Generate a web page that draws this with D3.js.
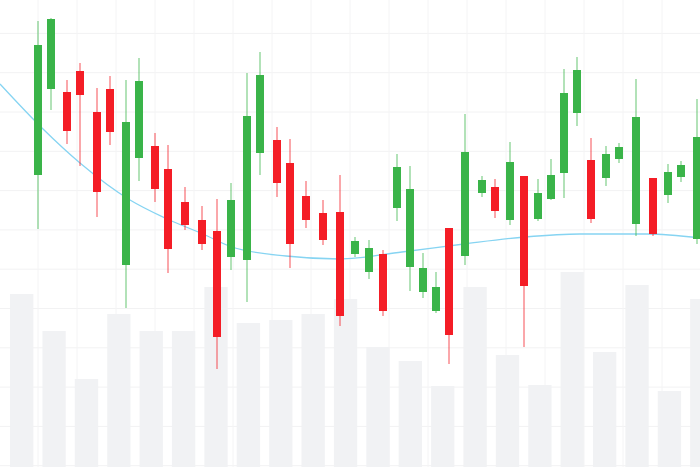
<!DOCTYPE html>
<html><head><meta charset="utf-8">
<script src="https://cdn.jsdelivr.net/npm/d3@7"></script>
<style>html,body{margin:0;padding:0;background:#fff;}svg{display:block;}</style>
</head><body><svg id="c" width="700" height="467"></svg>
<script>
// time coordinate of each candle
const t = [38,51,67,80,97,110,126,139,155,168,185,202,217,231,247,260,277,290,306,323,340,355,369,383,397,410,423,436,449,465,482,495,510,524,538,551,564,577,591,606,619,636,653,668,681,697];
// prices (higher = up)
const open  = [292,378,375,396,355,378,202,309,321,298,265,247,236,210,207,314,327,304,271,254,255,213,195,213,259,200,175,156,239,211,274,280,247,291,248,268,294,354,307,289,308,243,289,272,290,228];
const close = [422,448,336,372,275,335,345,386,278,218,242,223,130,267,351,392,284,223,247,227,151,226,219,156,300,278,199,180,132,315,287,256,305,181,274,292,374,397,248,313,320,350,233,295,302,330];
const high  = [446,449,387,404,379,391,387,409,334,322,280,261,268,284,394,415,340,328,286,267,292,230,227,217,313,301,214,195,239,353,291,288,325,291,288,308,398,410,329,321,324,388,289,303,306,368];
const low   = [238,357,323,301,250,322,159,286,265,194,237,217,98,197,165,292,270,199,239,222,141,210,188,151,246,176,169,154,103,202,270,249,242,120,246,267,269,341,244,281,304,231,231,264,285,223];
// moving-average line
const maT = [0,42,80,130,165,203,232,286,339,402,464,525,580,647,700];
const maV = [383,339,304,267,249,233,220,211,208,215,223,230,233,233,229];
// volume bars
const volume = [173,136,88,153,136,136,180,144,147,153,168,120,106,81,180,112,82,195,115,182,76,168];

const svg = d3.select("#c");
const W = 700, H = 467;
const x = d3.scaleLinear().domain([0,700]).range([0,W]);
const y = d3.scaleLinear().domain([0,467]).range([H,0]);
const xb = d3.scaleBand().domain(d3.range(volume.length)).range([5.5,718]).paddingInner(0.28).paddingOuter(0.14);

// grid
const g = svg.append("g");
g.selectAll("line.h").data(d3.range(1.3,467,39.3)).join("line")
 .attr("x1",0).attr("x2",W).attr("y1",d=>y(d)).attr("y2",d=>y(d))
 .attr("stroke","#f2f2f3").attr("stroke-width",1);
g.selectAll("line.v").data(d3.range(-1,701,39)).join("line")
 .attr("y1",0).attr("y2",H).attr("x1",d=>x(d)).attr("x2",d=>x(d))
 .attr("stroke","#f4f4f5").attr("stroke-width",1);

// volume
svg.append("g").selectAll("rect").data(volume).join("rect")
 .attr("x",(d,i)=>xb(i)).attr("width",xb.bandwidth())
 .attr("y",d=>y(d)).attr("height",d=>H-y(d))
 .attr("fill","#f0f1f3").attr("opacity",0.95);

// MA line
const pts = maT.map((d,i)=>[x(d),y(maV[i])]);
svg.append("path").attr("d",d3.line().curve(d3.curveMonotoneX)(pts))
 .attr("fill","none").attr("stroke","#86d4f2").attr("stroke-width",1.3);

// candles
const GREEN="#3ab449", RED="#f41d26";
const c = svg.append("g").selectAll("g").data(t).join("g");
c.append("line").attr("x1",d=>x(d)).attr("x2",d=>x(d))
 .attr("y1",(d,i)=>y(high[i])).attr("y2",(d,i)=>y(low[i]))
 .attr("stroke",(d,i)=>close[i]>=open[i]?GREEN:RED).attr("stroke-opacity",0.6).attr("stroke-width",1.3);
c.append("rect").attr("x",d=>x(d)-4).attr("width",8)
 .attr("y",(d,i)=>y(Math.max(open[i],close[i])))
 .attr("height",(d,i)=>Math.abs(y(open[i])-y(close[i])))
 .attr("fill",(d,i)=>close[i]>=open[i]?GREEN:RED);
</script></body></html>
